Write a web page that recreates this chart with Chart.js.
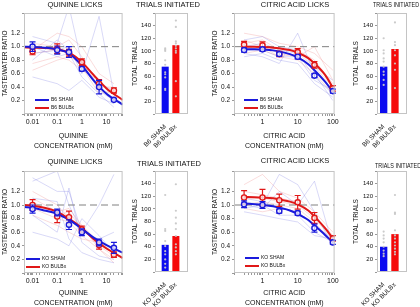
<!DOCTYPE html>
<html>
<head>
<meta charset="utf-8">
<script src="https://cdn.jsdelivr.net/npm/chart.js@4.4.1/dist/chart.umd.min.js"></script>
<style>
body { margin: 0; width: 420px; height: 307px; overflow: hidden; background: #fff; position: relative;
       font-family: "Liberation Sans", Arial, sans-serif; color: #111; }
canvas { position: absolute; }
.t { position: absolute; font-size: 7.5px; white-space: nowrap; transform: translate(-50%, -50%); }
.tr { position: absolute; font-size: 7.5px; white-space: nowrap; transform: translateY(-50%) scaleX(0.72); transform-origin: left center; }
.lg { position: absolute; font-size: 5px; line-height: 6px; white-space: nowrap; }
.lg i { display: inline-block; width: 14px; height: 2px; vertical-align: middle; margin-right: 2px; }
</style>
</head>
<body>
<canvas id="c1" width="128" height="152" style="left:0;top:0"></canvas>
<canvas id="c2" width="62" height="150" style="left:130px;top:0"></canvas>
<canvas id="c3" width="130" height="152" style="left:210px;top:0"></canvas>
<canvas id="c4" width="69" height="150" style="left:351px;top:0"></canvas>
<canvas id="c5" width="128" height="159" style="left:0;top:150px"></canvas>
<canvas id="c6" width="62" height="157" style="left:130px;top:150px"></canvas>
<canvas id="c7" width="130" height="159" style="left:210px;top:150px"></canvas>
<canvas id="c8" width="69" height="157" style="left:351px;top:150px"></canvas>

<div class="t" style="left:75px;top:4px">QUININE LICKS</div>
<div class="t" style="left:168px;top:4px">TRIALS INITIATED</div>
<div class="t" style="left:295px;top:4px">CITRIC ACID LICKS</div>
<div class="tr" style="left:373px;top:4px">TRIALS INITIATED</div>
<div class="t" style="left:75px;top:161px">QUININE LICKS</div>
<div class="t" style="left:169px;top:163px">TRIALS INITIATED</div>
<div class="t" style="left:295px;top:160px">CITRIC ACID LICKS</div>
<div class="tr" style="left:375px;top:165px">TRIALS INITIATED</div>

<div class="lg" style="left:35px;top:96px"><i style="background:#1a1adc"></i>B6 SHAM</div>
<div class="lg" style="left:35px;top:104px"><i style="background:#e01818"></i>B6 BULBx</div>
<div class="lg" style="left:244px;top:96px"><i style="background:#1a1adc"></i>B6 SHAM</div>
<div class="lg" style="left:244px;top:104px"><i style="background:#e01818"></i>B6 BULBx</div>
<div class="lg" style="left:26px;top:255px"><i style="background:#1a1adc"></i>KO SHAM</div>
<div class="lg" style="left:26px;top:263px"><i style="background:#e01818"></i>KO BULBx</div>
<div class="lg" style="left:245px;top:254px"><i style="background:#1a1adc"></i>KO SHAM</div>
<div class="lg" style="left:245px;top:262px"><i style="background:#e01818"></i>KO BULBx</div>

<script>
// concentrations (mM)
const quinineConc = [0.01, 0.1, 0.3, 1, 5, 20];
const citricConc = [0.3, 1, 3, 10, 30, 100];
const quinineFitX = [0.0045, 0.01, 0.03, 0.1, 0.3, 1, 3, 10, 45];
const citricFitX = [0.3, 0.6, 1, 2, 3, 6, 10, 20, 30, 60, 100];

// B6 quinine
const b6QuinSham = [1.0, 0.95, 0.92, 0.67, 0.40, 0.21];
const b6QuinShamErr = [0.07, 0.06, 0.08, 0.03, 0.1, 0.02];
const b6QuinBulbx = [0.93, 0.97, 0.91, 0.77, 0.45, 0.35];
const b6QuinBulbxErr = [0.05, 0.07, 0.05, 0.05, 0.06, 0.04];
const b6QuinShamFit = [1.0, 0.995, 0.985, 0.96, 0.9, 0.72, 0.5, 0.3, 0.14];
const b6QuinBulbxFit = [0.99, 0.985, 0.98, 0.96, 0.91, 0.77, 0.58, 0.38, 0.21];
const b6QuinShamInd = [
  [1.15, 1.05, 1.6, 0.75, 0.35, 0.2],
  [0.9, 0.95, 1.0, 0.6, 1.45, 0.3],
  [0.55, 0.45, 0.35, 0.5, 0.25, 0.15],
  [1.0, 0.85, 0.9, 0.55, 0.3, 0.1],
  [0.8, 1.1, 0.95, 0.7, 0.45, 0.35]
];
const b6QuinBulbxInd = [
  [0.95, 1.2, 1.15, 1.0, 0.6, 0.45],
  [0.75, 0.85, 0.8, 0.65, 0.5, 0.3],
  [1.05, 1.0, 1.1, 0.85, 0.35, 0.3],
  [0.65, 0.8, 0.85, 0.75, 0.4, 0.4],
  [0.9, 0.95, 0.9, 0.7, 0.3, 0.35]
];

// B6 citric acid
const b6CitSham = [0.95, 0.96, 0.89, 0.85, 0.57, 0.34];
const b6CitShamErr = [0.03, 0.03, 0.03, 0.03, 0.03, 0.03];
const b6CitBulbx = [1.03, 1.02, 0.89, 0.92, 0.73, 0.38];
const b6CitBulbxErr = [0.05, 0.05, 0.04, 0.05, 0.05, 0.04];
const b6CitShamFit = [0.96, 0.96, 0.955, 0.945, 0.93, 0.89, 0.84, 0.74, 0.65, 0.48, 0.33];
const b6CitBulbxFit = [1.0, 1.0, 0.995, 0.985, 0.975, 0.95, 0.91, 0.83, 0.75, 0.58, 0.39];
const b6CitShamInd = [
  [0.9, 0.85, 0.75, 1.2, 0.6, 0.2],
  [1.0, 1.05, 0.95, 0.9, 0.55, 0.3],
  [0.85, 0.9, 0.8, 0.75, 0.45, 0.25],
  [1.1, 1.15, 1.0, 0.95, 0.7, 0.5],
  [0.95, 0.95, 0.85, 0.85, 0.5, 0.35]
];
const b6CitBulbxInd = [
  [1.2, 1.15, 1.05, 1.0, 0.9, 0.65],
  [1.05, 1.1, 0.95, 0.95, 0.8, 0.45],
  [0.95, 1.0, 0.85, 0.9, 0.7, 0.4],
  [1.1, 1.0, 0.9, 0.85, 1.0, 0.5],
  [0.9, 0.95, 0.85, 0.8, 0.6, 0.3]
];

// KO quinine
const koQuinSham = [0.94, 0.89, 0.71, 0.6, 0.45, 0.37];
const koQuinShamErr = [0.06, 0.05, 0.07, 0.05, 0.05, 0.08];
const koQuinBulbx = [1.0, 0.83, 0.82, 0.64, 0.41, 0.27];
const koQuinBulbxErr = [0.08, 0.09, 0.09, 0.05, 0.06, 0.04];
const koQuinShamFit = [0.97, 0.96, 0.92, 0.87, 0.78, 0.65, 0.52, 0.41, 0.3];
const koQuinBulbxFit = [1.0, 0.99, 0.96, 0.9, 0.8, 0.66, 0.5, 0.36, 0.22];
const koQuinShamInd = [
  [1.4, 1.2, 1.2, 0.6, 0.5, 0.6],
  [0.85, 0.6, 1.25, 0.45, 0.25, 0.2],
  [1.1, 1.05, 0.5, 0.3, 0.2, 0.15],
  [0.6, 0.5, 0.4, 0.8, 0.55, 0.3],
  [1.35, 1.5, 1.0, 0.6, 1.0, 1.45]
];
const koQuinBulbxInd = [
  [1.1, 0.9, 0.95, 0.7, 0.45, 0.3],
  [0.95, 0.8, 0.75, 0.55, 0.35, 0.2],
  [1.05, 0.85, 0.9, 0.65, 0.4, 0.25],
  [0.85, 0.7, 0.6, 0.5, 0.45, 0.3],
  [1.2, 1.0, 0.8, 0.7, 0.35, 0.15]
];

// KO citric acid
const koCitSham = [1.01, 1.0, 0.91, 0.88, 0.66, 0.45];
const koCitShamErr = [0.05, 0.05, 0.03, 0.03, 0.06, 0.03];
const koCitBulbx = [1.11, 1.11, 1.07, 1.04, 0.81, 0.51];
const koCitBulbxErr = [0.1, 0.12, 0.09, 0.1, 0.08, 0.04];
const koCitShamFit = [1.02, 1.01, 1.0, 0.98, 0.96, 0.92, 0.87, 0.78, 0.7, 0.56, 0.45];
const koCitBulbxFit = [1.12, 1.115, 1.11, 1.1, 1.08, 1.05, 1.01, 0.92, 0.83, 0.66, 0.51];
const koCitShamInd = [
  [1.05, 1.0, 1.45, 1.3, 0.9, 0.4],
  [0.95, 1.0, 0.85, 0.85, 0.6, 0.45],
  [1.0, 0.95, 1.2, 1.0, 1.35, 0.4],
  [0.9, 0.85, 0.8, 0.75, 0.55, 0.5],
  [1.1, 1.05, 0.95, 0.9, 0.7, 0.5]
];
const koCitBulbxInd = [
  [1.2, 1.15, 1.1, 1.05, 0.85, 0.55],
  [1.0, 1.05, 1.0, 0.95, 0.75, 0.45],
  [1.3, 1.45, 1.2, 1.1, 0.9, 0.6],
  [0.95, 0.9, 0.95, 0.9, 0.7, 0.45],
  [1.1, 1.1, 1.05, 1.0, 0.8, 0.5]
];

// trials initiated: means and individual animals
const b6QuinTrials = [75, 109];
const b6QuinShamDots = [104, 102, 100, 85, 78, 66, 63, 58, 40, 38];
const b6QuinBulbxDots = [148, 138, 115, 112, 108, 104, 100, 97, 52, 28];
const b6CitTrials = [75, 103];
const b6CitShamDots = [120, 101, 96, 88, 83, 75, 67, 62, 54, 46];
const b6CitBulbxDots = [145, 114, 109, 101, 93, 80, 70, 41];
const koQuinTrials = [43, 57];
const koQuinShamDots = [122, 68, 65, 49, 41, 33, 28, 20, 13, 7];
const koQuinBulbxDots = [139, 97, 86, 77, 68, 57, 44, 39, 33, 28];
const koCitTrials = [40, 60];
const koCitShamDots = [64, 58, 53, 47, 40, 34, 29, 25];
const koCitBulbxDots = [122, 94, 92, 66, 58, 53, 47, 42, 37, 32, 28];

const BLUE = '#1a1adc', RED = '#e01818';
const BLUE_BAR = '#0b0bf0', RED_BAR = '#f50a0a';
Chart.defaults.font.family = '"Liberation Sans", Arial, sans-serif';
Chart.defaults.color = '#111';

const frame = {
  id: 'frame',
  afterDraw(chart) {
    const a = chart.chartArea, c = chart.ctx;
    c.save();
    c.strokeStyle = '#c4c4c4';
    c.lineWidth = 1;
    c.strokeRect(a.left + 0.5, a.top + 0.5, a.right - a.left - 1, a.bottom - a.top - 1);
    c.restore();
  }
};

const errorBars = {
  id: 'errorBars',
  beforeDatasetDraw(chart, args) {
    const ds = chart.data.datasets[args.index];
    if (!ds.errors) return;
    const c = chart.ctx, x = chart.scales.x, y = chart.scales.y;
    c.save();
    c.strokeStyle = ds.borderColor;
    c.lineWidth = 1.2;
    ds.data.forEach((p, i) => {
      const px = x.getPixelForValue(p.x);
      const lo = y.getPixelForValue(p.y - ds.errors[i]);
      const hi = y.getPixelForValue(p.y + ds.errors[i]);
      c.beginPath();
      c.moveTo(px, lo); c.lineTo(px, hi);
      c.moveTo(px - 3, lo); c.lineTo(px + 3, lo);
      c.moveTo(px - 3, hi); c.lineTo(px + 3, hi);
      c.stroke();
    });
    c.restore();
  }
};

const pts = (xs, ys) => ys.map((y, i) => ({ x: xs[i], y }));
const decadeLabel = v => {
  const e = Math.log10(v);
  return Math.abs(e - Math.round(e)) < 1e-9 ? String(+v.toPrecision(2)) : '';
};

function lineChart(id, p) {
  const datasets = [
    { data: pts(p.x, p.sham), errors: p.shamErr, borderColor: BLUE, backgroundColor: 'rgba(255,255,255,0.75)',
      pointRadius: 2.6, pointBorderWidth: 1.4, showLine: false },
    { data: pts(p.x, p.bulbx), errors: p.bulbxErr, borderColor: RED, backgroundColor: 'rgba(255,255,255,0.75)',
      pointRadius: 2.6, pointBorderWidth: 1.4, showLine: false },
    { data: pts(p.fitX, p.shamFit), borderColor: BLUE, borderWidth: 2, pointRadius: 0, showLine: true,
      cubicInterpolationMode: 'monotone' },
    { data: pts(p.fitX, p.bulbxFit), borderColor: RED, borderWidth: 2, pointRadius: 0, showLine: true,
      cubicInterpolationMode: 'monotone' },
    { data: [{ x: p.xmin, y: 1 }, { x: p.xmax, y: 1 }], borderColor: '#808080', borderWidth: 1,
      borderDash: [7, 4], pointRadius: 0, showLine: true }
  ];
  p.shamInd.forEach(r => datasets.push({ data: pts(p.x, r), borderColor: 'rgba(110,110,225,0.38)',
    borderWidth: 0.7, pointRadius: 0, showLine: true }));
  p.bulbxInd.forEach(r => datasets.push({ data: pts(p.x, r), borderColor: 'rgba(235,120,120,0.38)',
    borderWidth: 0.7, pointRadius: 0, showLine: true }));

  new Chart(document.getElementById(id), {
    type: 'scatter',
    data: { datasets },
    plugins: [frame, errorBars],
    options: {
      responsive: false, animation: false, events: [],
      layout: { padding: { top: p.top, right: 4, left: 0, bottom: 0 } },
      plugins: { legend: { display: false }, tooltip: { enabled: false } },
      scales: {
        x: {
          type: 'logarithmic', min: p.xmin, max: p.xmax,
          border: { display: false },
          grid: { drawOnChartArea: false, tickLength: 2, color: '#999' },
          ticks: { autoSkip: false, minRotation: 0, maxRotation: 0, padding: 2, font: { size: 7 },
                   callback: v => decadeLabel(v) },
          title: { display: true, text: p.xTitle, font: { size: 7, lineHeight: 1.45 }, padding: { top: 0, bottom: 1 } },
          afterFit: s => { s.height = p.xh; }
        },
        y: {
          min: 0, max: 1.5,
          border: { display: false },
          grid: { drawOnChartArea: false, tickLength: 2, color: '#999' },
          ticks: { stepSize: 0.2, padding: 2, font: { size: 6.5 },
                   callback: v => (v > 0.01 && v < 1.45) ? v.toFixed(1) : '' },
          title: { display: true, text: 'TASTE/WATER RATIO', font: { size: 6.5 }, padding: { top: 1, bottom: 0 } },
          afterFit: s => { s.width = 24; }
        }
      }
    }
  });
}

function barChart(id, p) {
  const dots = p.shamDots.map(v => ({ x: 0, y: v })).concat(p.bulbxDots.map(v => ({ x: 1, y: v })));
  new Chart(document.getElementById(id), {
    type: 'bar',
    data: {
      datasets: [
        { type: 'scatter', data: dots, pointRadius: 1.1, backgroundColor: 'rgba(200,200,200,0.95)', borderWidth: 0 },
        { data: [{ x: 0, y: p.means[0] }, { x: 1, y: p.means[1] }], backgroundColor: [BLUE_BAR, RED_BAR],
          barPercentage: p.barPct, categoryPercentage: 1 }
      ]
    },
    plugins: [frame],
    options: {
      responsive: false, animation: false, events: [],
      layout: { padding: { top: p.top, right: p.right, left: 0, bottom: 0 } },
      plugins: { legend: { display: false }, tooltip: { enabled: false } },
      scales: {
        x: {
          type: 'linear', min: p.xmin, max: p.xmax, offset: false,
          border: { display: false },
          grid: { display: false, offset: false },
          afterBuildTicks: s => { s.ticks = [{ value: 0 }, { value: 1 }]; },
          ticks: { autoSkip: false, minRotation: 45, maxRotation: 45, padding: 1, font: { size: 6.5 },
                   callback: v => p.labels[v] },
          afterFit: s => { s.height = p.xh; }
        },
        y: {
          min: 0, max: 160,
          border: { display: false },
          grid: { drawOnChartArea: false, tickLength: 2, color: '#999' },
          ticks: { stepSize: 20, padding: 2, font: { size: 6 },
                   callback: v => (v > 0 && v < 150) ? String(v) : '' },
          title: { display: true, text: 'TOTAL TRIALS', font: { size: 6.5 }, padding: { top: 1, bottom: 0 } },
          afterFit: s => { s.width = p.yw; }
        }
      }
    }
  });
}

const quinTitle = ['QUININE', 'CONCENTRATION (mM)'];
const citTitle = ['CITRIC ACID', 'CONCENTRATION (mM)'];

lineChart('c1', { x: quinineConc, sham: b6QuinSham, shamErr: b6QuinShamErr, bulbx: b6QuinBulbx, bulbxErr: b6QuinBulbxErr,
  fitX: quinineFitX, shamFit: b6QuinShamFit, bulbxFit: b6QuinBulbxFit, shamInd: b6QuinShamInd, bulbxInd: b6QuinBulbxInd,
  xmin: 0.0045, xmax: 45, xTitle: quinTitle, top: 13, xh: 38 });
lineChart('c3', { x: citricConc, sham: b6CitSham, shamErr: b6CitShamErr, bulbx: b6CitBulbx, bulbxErr: b6CitBulbxErr,
  fitX: citricFitX, shamFit: b6CitShamFit, bulbxFit: b6CitBulbxFit, shamInd: b6CitShamInd, bulbxInd: b6CitBulbxInd,
  xmin: 0.155, xmax: 112, xTitle: citTitle, top: 13, xh: 38 });
lineChart('c5', { x: quinineConc, sham: koQuinSham, shamErr: koQuinShamErr, bulbx: koQuinBulbx, bulbxErr: koQuinBulbxErr,
  fitX: quinineFitX, shamFit: koQuinShamFit, bulbxFit: koQuinBulbxFit, shamInd: koQuinShamInd, bulbxInd: koQuinBulbxInd,
  xmin: 0.0045, xmax: 45, xTitle: quinTitle, top: 21, xh: 36 });
lineChart('c7', { x: citricConc, sham: koCitSham, shamErr: koCitShamErr, bulbx: koCitBulbx, bulbxErr: koCitBulbxErr,
  fitX: citricFitX, shamFit: koCitShamFit, bulbxFit: koCitBulbxFit, shamInd: koCitShamInd, bulbxInd: koCitBulbxInd,
  xmin: 0.155, xmax: 112, xTitle: citTitle, top: 21, xh: 36 });

const b6Labels = ['B6 SHAM', 'B6 BULBx'];
const koLabels = ['KO SHAM', 'KO BULBx'];
barChart('c2', { means: b6QuinTrials, shamDots: b6QuinShamDots, bulbxDots: b6QuinBulbxDots, labels: b6Labels,
  xmin: -0.955, xmax: 2.136, barPct: 0.66, top: 13, right: 3, xh: 36, yw: 25 });
barChart('c4', { means: b6CitTrials, shamDots: b6CitShamDots, bulbxDots: b6CitBulbxDots, labels: b6Labels,
  xmin: -0.59, xmax: 2.065, barPct: 0.65, top: 13, right: 13, xh: 36, yw: 26 });
barChart('c6', { means: koQuinTrials, shamDots: koQuinShamDots, bulbxDots: koQuinBulbxDots, labels: koLabels,
  xmin: -0.955, xmax: 2.136, barPct: 0.66, top: 21, right: 3, xh: 35, yw: 25 });
barChart('c8', { means: koCitTrials, shamDots: koCitShamDots, bulbxDots: koCitBulbxDots, labels: koLabels,
  xmin: -0.59, xmax: 2.065, barPct: 0.65, top: 21, right: 13, xh: 35, yw: 26 });
</script>
</body>
</html>
